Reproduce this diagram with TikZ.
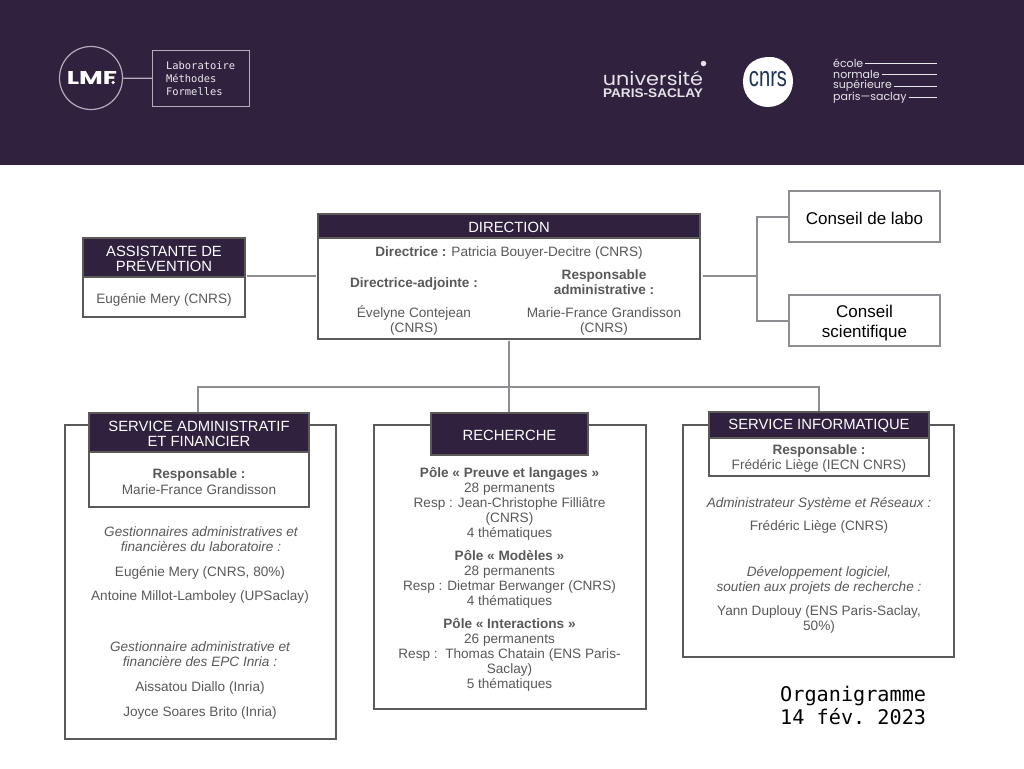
\documentclass[tikz,border=0pt]{standalone}
\usepackage{fontspec}
\setmainfont{Liberation Sans}
\newfontfamily\monof{DejaVu Sans Mono}
\newfontfamily\geof{Poppins}
\definecolor{band}{HTML}{30213F}
\definecolor{edge}{HTML}{5C5A58}
\definecolor{conn}{HTML}{8E8E92}
\definecolor{txt}{HTML}{595959}
\definecolor{logoline}{HTML}{B5ADBB}
\definecolor{cnrsblue}{HTML}{1D3557}
\tikzset{
 panel/.style={draw=edge,line width=1.7pt,fill=white},
 headtext/.style={text=white,align=center,font=\fontsize{14.8}{15}\selectfont,inner sep=0pt,yshift=-1.2pt},
 head/.style={draw=edge,line width=1.7pt,fill=band,inner sep=0pt},
 body/.style={text=txt,align=center,font=\fontsize{13.6}{15}\selectfont,inner sep=0pt,yshift=-2pt},
 bodyi/.style={body,font=\fontsize{13.6}{15}\selectfont\itshape},
 bodyb/.style={body,font=\fontsize{13.6}{15}\selectfont\bfseries},
 councilbox/.style={draw=conn,line width=1.7pt,fill=white,inner sep=0pt},
 counciltext/.style={align=center,font=\fontsize{17}{20}\selectfont,text=black,inner sep=0pt,yshift=-1.7pt},
 conline/.style={draw=conn,line width=2pt},
 trunk/.style={draw=conn,line width=2.5pt},
 thin line/.style={draw=conn,line width=1.8pt},
 logoedge/.style={draw=logoline,line width=1.2pt},
 logo/.style={text=white!88!band,inner sep=0pt},
 enstext/.style={logo,anchor=west,font=\geof\fontsize{11}{11}\selectfont},
 ensline/.style={draw=white!90!band,line width=.8pt},
}
\begin{document}
\begin{tikzpicture}[x=1pt,y=-1pt]
\useasboundingbox (0,0) rectangle (1024,768);
\fill[band] (0,0) rectangle (1024,165);
% LMF logo
\node[logoedge,circle,minimum size=63pt,inner sep=0pt] (lmf) at (91,78) {};
\node[logo,text=white,font=\geof\fontsize{18.5}{18.5}\selectfont\bfseries] (lmft) at (92,78.5) {\scalebox{1.4}[1]{LMF}};
\node[circle,fill=white,minimum size=3.5pt,inner sep=0pt] (lmfdot) at (113,82.5) {};
\node[logoedge,minimum width=97pt,minimum height=56pt,inner sep=0pt] (lab) at (201,78.5) {};
\node[anchor=west,align=left,text=white!75!logoline,inner sep=0pt,font=\monof\fontsize{10.4}{13}\selectfont] (labt) at (166,79) {Laboratoire\\Méthodes\\Formelles};
\draw[logoedge] (lmf) -- (lab);
% partner logos
\node[logo,anchor=base,font=\geof\fontsize{18.5}{18.5}\selectfont] (ups) at (653,85) {\scalebox{1.12}[1]{université}};
\node[logo,anchor=base,font=\fontsize{12.5}{12.5}\selectfont\bfseries] (ups2) at (653,97) {\scalebox{1.09}[1]{PARIS-SACLAY}};
\node[circle,fill=white!88!band,minimum size=5.5pt,inner sep=0pt] (upsdot) at (703.5,63.5) {};
\fill[white] (768,57) .. controls (783,56) and (793,68) .. (793,81) .. controls (793,95) and (783,107) .. (768,107) .. controls (755,107) and (743,97) .. (743,82) .. controls (743,68) and (751,58) .. (768,57) -- cycle;
\node[inner sep=0pt,text=cnrsblue,font=\fontsize{28}{28}\selectfont] (cnrs) at (768,79) {\scalebox{.72}[1]{cnrs}};
\node[enstext] (e1) at (833,63) {école};
\node[enstext] (e2) at (833,74.5) {normale};
\node[enstext] (e3) at (833,86) {supérieure};
\node[enstext] (e4) at (833,97.5) {paris—saclay};
\coordinate (e1r) at (936.5,63);
\coordinate (e2r) at (936.5,74.5);
\coordinate (e3r) at (936.5,86);
\coordinate (e4r) at (936.5,97.5);
\draw[ensline] (e1.east)++(2,0) -- (e1r);
\draw[ensline] (e2.east)++(2,0) -- (e2r);
\draw[ensline] (e3.east)++(2,0) -- (e3r);
\draw[ensline] (e4.east)++(2,0) -- (e4r);

% connector anchors
\coordinate (jt) at (509,387);
\coordinate (jl) at (198,387);
\coordinate (jr) at (819,387);
\coordinate (cj) at (757,276);
\coordinate (cu) at (757,216.5);
\coordinate (cd) at (757,320.5);

% Outer panels
\draw[panel] (65,425) rectangle (336,739);
\draw[panel] (374,425) rectangle (646,709);
\draw[panel] (683,425) rectangle (954,657);

% Direction
\draw[panel] (318,214) rectangle (700,339);
\node[head,minimum width=382pt,minimum height=24pt,label={[headtext]center:DIRECTION}] (dir) at (509,226) {};
\node[body] (d1) at (509,251) {\textbf{Directrice :} Patricia Bouyer-Decitre (CNRS)};
\node[bodyb] (d2) at (414,282) {Directrice-adjointe :};
\node[bodyb] (d3) at (604,280) {Responsable\\administrative :};
\node[body] (d4) at (414,319) {Évelyne Contejean\\(CNRS)};
\node[body] (d5) at (604,319) {Marie-France Grandisson\\(CNRS)};
\coordinate (dirb) at (509,341);
\coordinate (dirl) at (316,276);
\coordinate (dirr) at (703,276);

% Assistante
\draw[panel] (83,238) rectangle (245,317);
\node[head,minimum width=162pt,minimum height=39pt,label={[headtext]center:ASSISTANTE DE\\PRÉVENTION}] (ass) at (164,257.5) {};
\node[body] (ass2) at (164,298) {Eugénie Mery (CNRS)};
\coordinate (assr) at (247,276);

% Conseils
\node[councilbox,minimum width=151pt,minimum height=51pt,label={[counciltext]center:Conseil de labo}] (cl) at (864.5,216.5) {};
\node[councilbox,minimum width=151pt,minimum height=51pt,label={[counciltext,yshift=-1.3pt]center:Conseil\\scientifique}] (cs) at (864.5,320.5) {};

% Admin
\draw[panel] (89,452) rectangle (309,507);
\node[head,minimum width=220pt,minimum height=39pt,label={[headtext]center:SERVICE ADMINISTRATIF\\ET FINANCIER}] (adm) at (199,432.5) {};
\node[bodyb] (a1) at (199,473) {Responsable :};
\node[body] (a2) at (199,488) {Marie-France Grandisson};
\node[bodyi] (a3) at (201,537) {Gestionnaires administratives et\\financières du laboratoire :};
\node[body] (a4) at (200,571) {Eugénie Mery (CNRS, 80\%)};
\node[body] (a5) at (200,595) {Antoine Millot-Lamboley (UPSaclay)};
\node[bodyi] (a6) at (200,652) {Gestionnaire administrative et\\financière des EPC Inria :};
\node[body] (a7) at (200,686) {Aissatou Diallo (Inria)};
\node[body] (a8) at (200,711) {Joyce Soares Brito (Inria)};

% Recherche
\node[head,minimum width=157pt,minimum height=42pt,label={[headtext]center:RECHERCHE}] (rec) at (509.5,434) {};
\node[body] (r1) at (509.5,502) {\textbf{Pôle « Preuve et langages »}\\28 permanents\\Resp : Jean-Christophe Filliâtre\\(CNRS)\\4 thématiques};
\node[body] (r2) at (509.5,577.5) {\textbf{Pôle « Modèles »}\\28 permanents\\Resp : Dietmar Berwanger (CNRS)\\4 thématiques};
\node[body] (r3) at (509.5,653) {\textbf{Pôle « Interactions »}\\26 permanents\\Resp :\ \ Thomas Chatain (ENS Paris-\\Saclay)\\5 thématiques};

% Info
\draw[panel] (709,438) rectangle (929,476);
\node[head,minimum width=220pt,minimum height=26pt,label={[headtext]center:SERVICE INFORMATIQUE}] (inf) at (819,425) {};
\node[bodyb] (i1) at (819,449) {Responsable :};
\node[body] (i2) at (819,464) {Frédéric Liège (IECN CNRS)};
\node[bodyi] (i3) at (819,502) {Administrateur Système et Réseaux :};
\node[body] (i4) at (819,525) {Frédéric Liège (CNRS)};
\node[bodyi] (i5) at (819,578) {Développement logiciel,\\soutien aux projets de recherche :};
\node[body] (i6) at (819,617) {Yann Duplouy (ENS Paris-Saclay,\\50\%)};

% Title
\node[anchor=west,align=left,inner sep=0pt,font=\monof\fontsize{20.2}{23}\selectfont\frenchspacing,text=black] (title) at (780,705) {Organigramme\\14 fév. 2023};

% Connectors
\draw[conline] (assr) -- (dirl);
\draw[conline] (dirr) -- (cj);
\draw[conline] (cl.west) -- (cu) -- (cd) -- (cs.west);
\draw[trunk] (dirb) -- (jt);
\draw[thin line] (jt) -- (jt |- rec.north);
\draw[thin line] (jl |- adm.north) -- (jl) -- (jr) -- (inf.north);
\end{tikzpicture}
\end{document}
